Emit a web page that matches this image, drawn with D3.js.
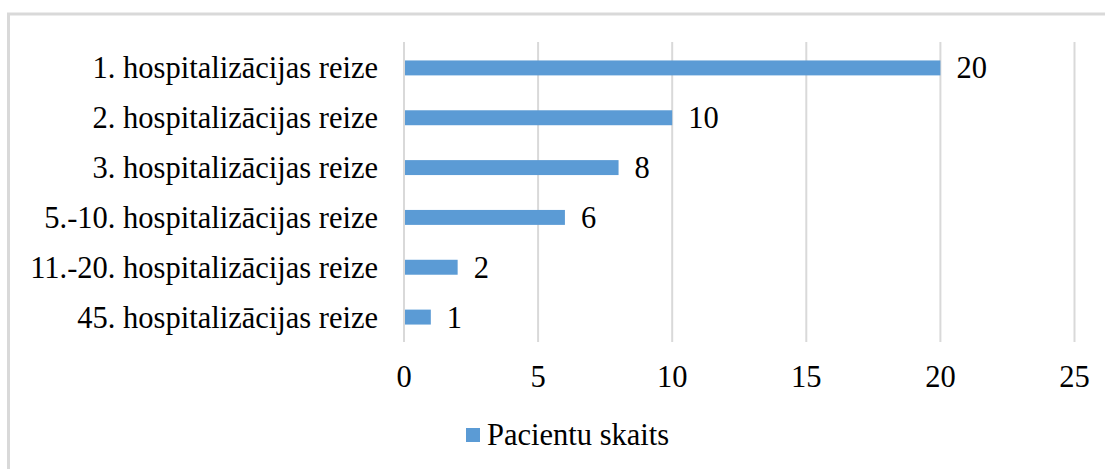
<!DOCTYPE html>
<html>
<head>
<meta charset="utf-8">
<script src="https://cdn.jsdelivr.net/npm/d3@7"></script>
<style>
  body { margin: 0; background: #fff; }
  svg text { font-family: "Liberation Serif", "Times New Roman", serif; fill: #000; }
</style>
</head>
<body>
<svg class="grafiks" width="1105" height="469"></svg>
<script>
const kategorijas = [
  "1. hospitalizācijas reize",
  "2. hospitalizācijas reize",
  "3. hospitalizācijas reize",
  "5.-10. hospitalizācijas reize",
  "11.-20. hospitalizācijas reize",
  "45. hospitalizācijas reize"
]
const pacienti = [20, 10, 8, 6, 2, 1]
const ticki = [0, 5, 10, 15, 20, 25]
const serijasNosaukums = "Pacientu skaits"

const dati = kategorijas.map((k, i) => ({ k, v: pacienti[i] }))

const svg = d3.select('.grafiks')
const fontSize = 30.5

// chart frame
svg.append('rect')
  .attr('x', 8.5).attr('y', 14)
  .attr('width', 1200).attr('height', 600)
  .attr('fill', 'none')
  .attr('stroke', '#d9d9d9')
  .attr('stroke-width', 3)

const x = d3.scaleLinear().domain([0, 25]).range([404, 1074.5])
const y = d3.scaleBand().domain(kategorijas).range([43, 342]).paddingInner(0.7).paddingOuter(0.35)

// gridlines
svg.append('g')
  .selectAll('line')
  .data(ticki)
  .join('line')
  .attr('x1', d => x(d)).attr('x2', d => x(d))
  .attr('y1', 42).attr('y2', 342)
  .attr('stroke', '#d9d9d9')
  .attr('stroke-width', 2)

// x tick labels
svg.append('g')
  .selectAll('text')
  .data(ticki)
  .join('text')
  .attr('x', d => x(d))
  .attr('y', 387)
  .attr('text-anchor', 'middle')
  .style('font-size', fontSize + 'px')
  .text(d => d)

// bars
svg.append('g')
  .selectAll('rect')
  .data(dati)
  .join('rect')
  .attr('x', x(0) + 1)
  .attr('y', d => y(d.k))
  .attr('width', d => x(d.v) - x(0) - 1)
  .attr('height', y.bandwidth())
  .attr('fill', '#5b9bd5')

// category labels
svg.append('g')
  .selectAll('text')
  .data(dati)
  .join('text')
  .attr('x', 378)
  .attr('y', d => y(d.k) + y.bandwidth() / 2 + 10.5)
  .attr('text-anchor', 'end')
  .style('font-size', fontSize + 'px')
  .text(d => d.k)

// value labels
svg.append('g')
  .selectAll('text')
  .data(dati)
  .join('text')
  .attr('x', d => x(d.v) + 16)
  .attr('y', d => y(d.k) + y.bandwidth() / 2 + 10.5)
  .style('font-size', fontSize + 'px')
  .text(d => d.v)

// legend
const leg = svg.append('g')
leg.append('rect')
  .attr('x', 466).attr('y', 428)
  .attr('width', 14).attr('height', 14)
  .attr('fill', '#5b9bd5')
leg.append('text')
  .attr('x', 487).attr('y', 445)
  .style('font-size', fontSize + 'px')
  .text(serijasNosaukums)
</script>
</body>
</html>
